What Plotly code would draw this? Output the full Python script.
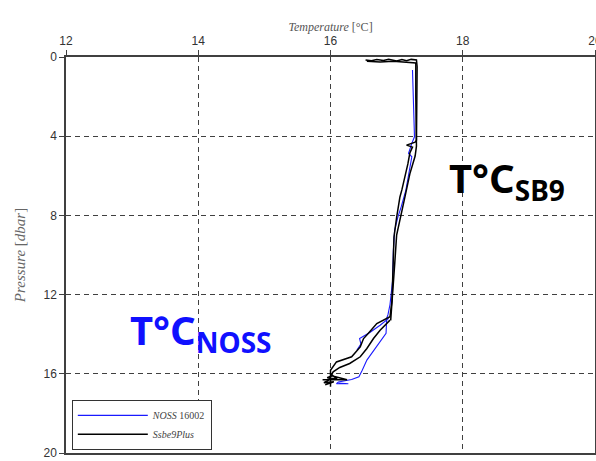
import plotly.graph_objects as go

# ---- data ----
# NOSS 16002 (blue): descent + ascent segments, None separates segments
noss_T = [17.24, 17.25, 17.26, 17.27, 17.27, 17.23, 17.18, 17.23, 17.18, 17.14, 17.07, 17.02, 16.97,
          16.95, 16.94, 16.92, 16.90, 16.87, 16.85, 16.84, 16.75, 16.65, 16.55, 16.48, 16.43, 16.32,
          16.12, 16.09, 16.27, 16.12,
          None,
          16.88, 16.75, 16.60, 16.44, 16.46, 16.40]
noss_P = [0.66, 1.5, 2.5, 3.5, 4.03, 4.36, 4.87, 5.04, 5.88, 6.72, 7.56, 8.07, 8.74,
          9.8, 11.27, 12.0, 12.5, 13.0, 13.2, 13.96, 14.39, 14.81, 15.31, 15.82, 16.15, 16.29,
          16.41, 16.5, 16.5, 16.47,
          None,
          13.2, 13.55, 13.9, 14.22, 14.5, 14.8]

# Ssbe9Plus (black): several casts separated by None
sbe_T = [16.53, 16.62, 16.70, 16.80, 16.88, 17.00, 17.08, 17.15, 17.22, 17.30, 17.31, 17.31, 17.31,
         17.30, 17.28, 17.15, 17.24, 17.20, 17.17, 17.12, 17.08, 17.05, 17.02, 17.00, 16.96, 16.95,
         16.94, 16.93, 16.90, 16.70, 16.57, 16.50, 16.45, 16.32, 16.09, 16.00, 16.00, 16.00,
         None,
         16.90, 16.75, 16.65, 16.55, 16.45, 16.29, 16.14, 16.04, 15.97, 15.90, 16.05, 15.92,
         None,
         15.88, 16.25, 16.02, 15.95, 16.10, 16.0,
         None,
         16.55, 16.75, 16.95, 17.15, 17.29, 17.29, 17.29, 17.30, 17.28, 17.20, 17.13, 17.06, 17.00,
         16.97, 16.94, 16.93, 16.91]
sbe_P = [0.15, 0.19, 0.13, 0.18, 0.12, 0.20, 0.13, 0.19, 0.12, 0.15, 0.5, 2.0, 3.5,
         4.2, 4.3, 4.45, 4.55, 4.85, 5.4, 6.2, 6.7, 7.07, 7.6, 8.1, 9.1, 10.3,
         11.5, 12.3, 13.12, 13.46, 13.96, 14.22, 14.64, 15.14, 15.4, 15.82, 16.32, 16.66,
         None,
         13.29, 13.8, 14.22, 14.72, 15.14, 15.48, 15.68, 15.9, 16.32, 16.45, 16.4, 16.55,
         None,
         16.3, 16.3, 16.1, 16.2, 16.25, 16.0,
         None,
         0.22, 0.25, 0.22, 0.26, 0.3, 2.0, 3.8, 4.5, 5.0, 5.9, 7.0, 8.0, 9.0,
         10.5, 12.0, 12.8, 13.3]

x_ticks = [12, 14, 16, 18, 20]
y_ticks = [0, 4, 8, 12, 16, 20]

fig = go.Figure()
fig.add_trace(go.Scatter(x=noss_T, y=noss_P, mode="lines", name="<i>NOSS</i> 16002",
                         line=dict(color="#1a1aff", width=1.1), connectgaps=False))
fig.add_trace(go.Scatter(x=sbe_T, y=sbe_P, mode="lines", name="<i>Ssbe9Plus</i>",
                         line=dict(color="black", width=1.5), connectgaps=False))

axis_common = dict(showline=True, linecolor="#404040", linewidth=1.5, mirror=True,
                   showgrid=True, gridcolor="#404040", griddash="5px,4px", gridwidth=1,
                   ticks="outside", ticklen=5, tickcolor="#404040", zeroline=False,
                   automargin=False,
                   tickfont=dict(family="Liberation Sans", size=12, color="#333333"))

fig.update_xaxes(range=[12, 20], tickvals=x_ticks, side="top", ticklabeloverflow="allow",
                 **axis_common,
                 title=dict(text="<i>Temperature</i> [°C]", standoff=0,
                            font=dict(family="Liberation Serif", size=12, color="#555555")))
fig.update_yaxes(range=[20, 0], tickvals=y_ticks, **axis_common,
                 title=dict(text="<i>Pressure</i> [<i>dbar</i>]", standoff=14,
                            font=dict(family="Liberation Serif", size=15, color="#666666")))

fig.add_annotation(x=17.76, y=6.2, xref="x", yref="y", xanchor="left", yanchor="middle",
                   text="T°C<sub>SB9</sub>", showarrow=False,
                   font=dict(family="Noto Sans", size=40, color="black", weight="bold"))
fig.add_annotation(x=12.94, y=13.85, xref="x", yref="y", xanchor="left", yanchor="middle",
                   text="T°C<sub>NOSS</sub>", showarrow=False,
                   font=dict(family="Noto Sans", size=40, color="#1010ff", weight="bold"))

fig.update_layout(
    width=596, height=461,
    margin=dict(l=66, r=1, t=57, b=8, autoexpand=False),
    paper_bgcolor="white", plot_bgcolor="white",
    legend=dict(x=0.011, y=0.008, xanchor="left", yanchor="bottom",
                bgcolor="white", bordercolor="#333333", borderwidth=1,
                font=dict(family="Liberation Serif", size=10, color="#444444"),
                tracegroupgap=0, itemwidth=70),
)

fig.write_html("out.html", config={"displayModeBar": False},
               post_script="document.body.style.margin='0';document.body.style.overflow='hidden';")
